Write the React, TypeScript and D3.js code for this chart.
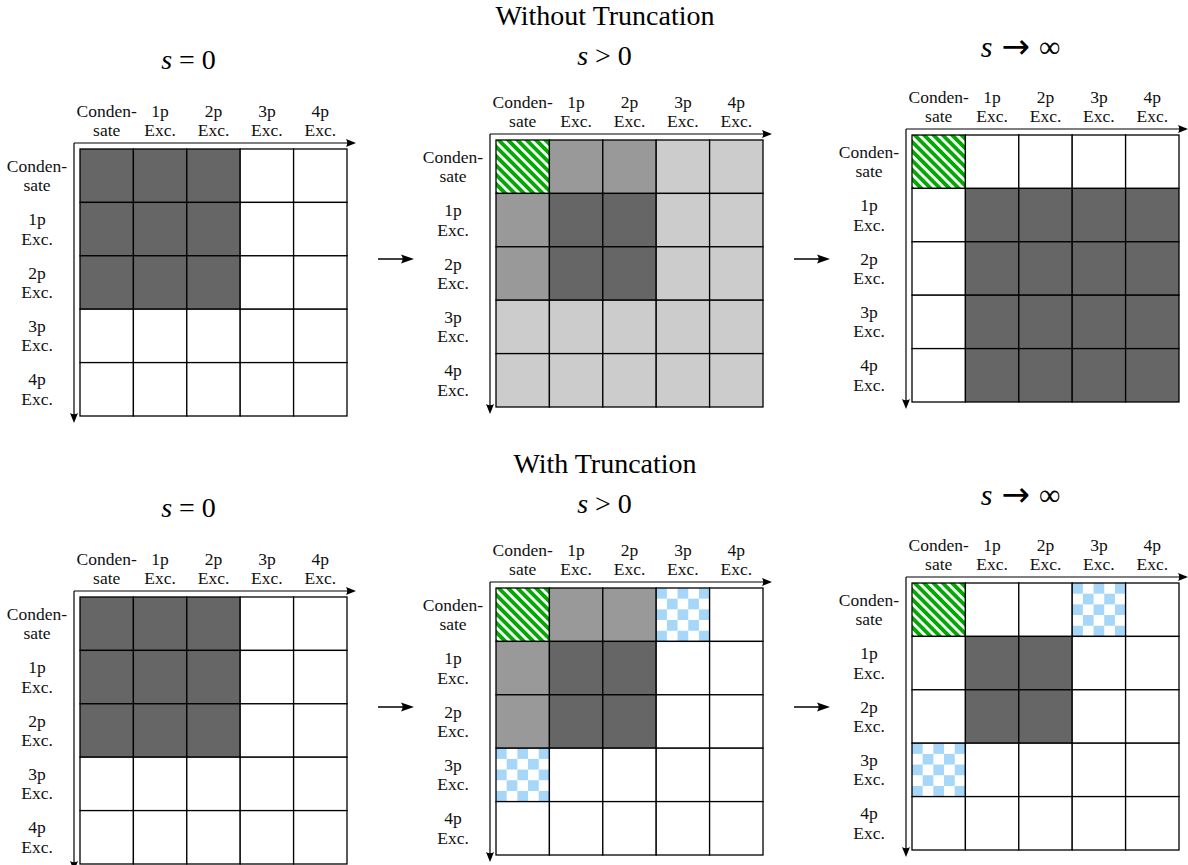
import React, { useRef, useEffect } from 'react';
import * as d3 from 'd3';

// cell codes: D dark, M medium, L light, G green hatch, C blue checker, W white
const states = ['Condensate', '1p', '2p', '3p', '4p'];
const stateLabels = [['Conden-', 'sate'], ['1p', 'Exc.'], ['2p', 'Exc.'], ['3p', 'Exc.'], ['4p', 'Exc.']];

const sectionTitles = ['Without Truncation', 'With Truncation'];
const panelTitles = [['s', ' = 0'], ['s', ' > 0'], ['s', '\u2192', '\u221E']];

const noTruncS0 = ['DDDWW', 'DDDWW', 'DDDWW', 'WWWWW', 'WWWWW'];
const noTruncMid = ['GMMLL', 'MDDLL', 'MDDLL', 'LLLLL', 'LLLLL'];
const noTruncInf = ['GWWWW', 'WDDDD', 'WDDDD', 'WDDDD', 'WDDDD'];

const truncS0 = ['DDDWW', 'DDDWW', 'DDDWW', 'WWWWW', 'WWWWW'];
const truncMid = ['GMMCW', 'MDDWW', 'MDDWW', 'CWWWW', 'WWWWW'];
const truncInf = ['GWWCW', 'WDDWW', 'WDDWW', 'CWWWW', 'WWWWW'];

const sections = [
  [noTruncS0, noTruncMid, noTruncInf],
  [truncS0, truncMid, truncInf],
];

// layout
const W = 1188;
const H = 865;
const GRID = 267;
const GRID_X = [80, 496, 912];
const GRID_Y = [149, 140, 135];
const TITLE_GAP = [80, 75, 78];
const ROW_SHIFT = 448;
const SECTION_BASELINE = 25;
const ARROW_Y = 259;
const FONT = '"Liberation Serif", "Times New Roman", serif';

const fills: Record<string, string> = {
  D: '#666666',
  M: '#999999',
  L: '#cccccc',
  W: '#ffffff',
  G: 'url(#hatch)',
  C: 'url(#checker)',
};

const App: React.FC = () => {
  const svgRef = useRef<SVGSVGElement>(null);

  useEffect(() => {
    if (!svgRef.current) return;
    const svg = d3.select(svgRef.current);
    svg.selectAll('*').remove();

    const defs = svg.append('defs');

    // green diagonal lines
    const hp = 6.6;
    const hatch = defs.append('pattern')
      .attr('id', 'hatch')
      .attr('patternUnits', 'userSpaceOnUse')
      .attr('width', hp)
      .attr('height', hp)
      .attr('patternTransform', 'rotate(-45)');
    hatch.append('rect').attr('width', hp).attr('height', hp).attr('fill', '#fff');
    hatch.append('rect').attr('width', 3.8).attr('height', hp).attr('fill', '#00aa00');

    // light blue checkerboard, aligned to each cell
    const n = 5;
    const checker = defs.append('pattern')
      .attr('id', 'checker')
      .attr('patternUnits', 'objectBoundingBox')
      .attr('patternContentUnits', 'objectBoundingBox')
      .attr('width', 2 / n)
      .attr('height', 2 / n);
    checker.append('rect').attr('width', 2 / n).attr('height', 2 / n).attr('fill', '#fff');
    checker.append('rect').attr('width', 1 / n).attr('height', 1 / n).attr('fill', '#a6d6f8');
    checker.append('rect').attr('x', 1 / n).attr('y', 1 / n)
      .attr('width', 1 / n).attr('height', 1 / n).attr('fill', '#a6d6f8');

    const band = d3.scaleBand<string>().domain(states).range([0, GRID]);
    const bw = band.bandwidth();

    const arrowHead = (g: any, x: number, y: number, dir: 'right' | 'down', len = 10, half = 4) => {
      const p = d3.path();
      if (dir === 'right') {
        p.moveTo(x, y);
        p.lineTo(x - len, y - half);
        p.quadraticCurveTo(x - len * 0.75, y, x - len, y + half);
      } else {
        p.moveTo(x, y);
        p.lineTo(x - half, y - len);
        p.quadraticCurveTo(x, y - len * 0.75, x + half, y - len);
      }
      p.closePath();
      g.append('path').attr('d', p.toString()).attr('fill', '#000');
    };

    sections.forEach((mats, si) => {
      const dy = si * ROW_SHIFT;

      svg.append('text')
        .attr('x', 605)
        .attr('y', SECTION_BASELINE + dy)
        .attr('text-anchor', 'middle')
        .attr('font-family', FONT)
        .attr('font-size', 28)
        .text(sectionTitles[si]);

      mats.forEach((mat, pi) => {
        const x0 = GRID_X[pi];
        const y0 = GRID_Y[pi] + dy;
        const g = svg.append('g').attr('transform', `translate(${x0},${y0})`);

        const cells = mat.flatMap((row, r) =>
          row.split('').map((code, c) => ({ r: states[r], c: states[c], code })));

        g.selectAll('rect.cell')
          .data(cells)
          .enter()
          .append('rect')
          .attr('class', 'cell')
          .attr('x', d => band(d.c)!)
          .attr('y', d => band(d.r)!)
          .attr('width', bw)
          .attr('height', bw)
          .attr('fill', d => fills[d.code])
          .attr('stroke', '#000')
          .attr('stroke-width', 1.3);

        // axes
        g.append('line')
          .attr('x1', -6).attr('y1', -6).attr('x2', GRID + 4).attr('y2', -6)
          .attr('stroke', '#000').attr('stroke-width', 1.2);
        arrowHead(g, GRID + 9, -6, 'right');
        g.append('line')
          .attr('x1', -6).attr('y1', -6).attr('x2', -6).attr('y2', GRID + 2)
          .attr('stroke', '#000').attr('stroke-width', 1.2);
        arrowHead(g, -6, GRID + 7, 'down');

        // column labels
        states.forEach((s, i) => {
          const t = g.append('text')
            .attr('text-anchor', 'middle')
            .attr('font-family', FONT)
            .attr('font-size', 17.5)
            .attr('fill', '#111');
          stateLabels[i].forEach((line, k) => {
            t.append('tspan')
              .attr('x', band(s)! + bw / 2)
              .attr('y', -32 + k * 18.5)
              .text(line);
          });
        });

        // row labels
        states.forEach((s, i) => {
          const t = g.append('text')
            .attr('text-anchor', 'middle')
            .attr('font-family', FONT)
            .attr('font-size', 17.5)
            .attr('fill', '#111');
          stateLabels[i].forEach((line, k) => {
            t.append('tspan')
              .attr('x', -43)
              .attr('y', band(s)! + bw / 2 - 4 + k * 19.5)
              .text(line);
          });
        });

        // panel title
        const parts = panelTitles[pi];
        const tt = g.append('text')
          .attr('x', GRID / 2 - 25)
          .attr('y', -TITLE_GAP[pi])
          .attr('text-anchor', 'middle')
          .attr('font-family', FONT)
          .attr('font-size', pi === 2 ? 30 : 28);
        tt.append('tspan').attr('font-style', 'italic').text(parts[0]);
        if (parts.length === 2) {
          tt.append('tspan').text(parts[1]);
        } else {
          tt.append('tspan')
            .attr('dx', 9)
            .attr('font-family', '"DejaVu Sans", sans-serif')
            .attr('font-size', 34)
            .attr('dy', 1)
            .text(parts[1]);
          tt.append('tspan').attr('dx', 9).attr('dy', -1).text(parts[2]);
        }
      });

      // arrows between panels
      [0, 1].forEach(k => {
        const xs = GRID_X[k] + GRID + 31;
        const xe = GRID_X[k + 1] - 82;
        const ay = ARROW_Y + dy;
        svg.append('line')
          .attr('x1', xs).attr('y1', ay).attr('x2', xe - 6).attr('y2', ay)
          .attr('stroke', '#000').attr('stroke-width', 1.5);
        arrowHead(svg, xe, ay, 'right', 13, 4.5);
      });
    });
  }, []);

  return (
    <svg
      ref={svgRef}
      width={W}
      height={H}
      style={{ position: 'absolute', left: 0, top: 0, background: '#fff' }}
    />
  );
};

export default App;
